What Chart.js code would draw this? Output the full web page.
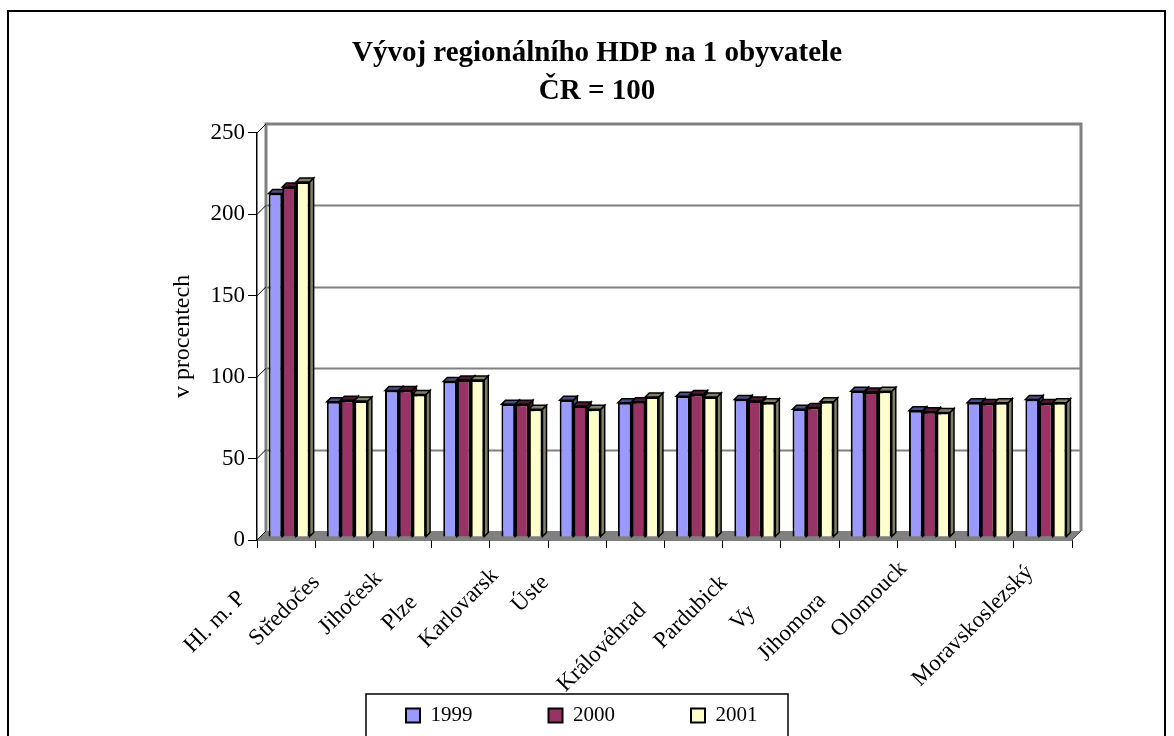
<!DOCTYPE html>
<html>
<head>
<meta charset="utf-8">
<script src="https://cdn.jsdelivr.net/npm/chart.js@4.4.1/dist/chart.umd.min.js"></script>
<style>
  html, body { margin: 0; padding: 0; background: #ffffff; }
  canvas { display: block; }
</style>
</head>
<body>
<canvas id="chart" width="1174" height="736"></canvas>
<script>
// ---------- DATA ----------
const categories = ["Hl. m. Praha", "Středočeský", "Jihočeský", "Plzeňský", "Karlovarský", "Ústecký", "Liberecký",
  "Královéhradecký", "Pardubický", "Vysočina", "Jihomoravský", "Olomoucký", "Zlínský", "Moravskoslezský"];
// labels as they are visible (clipped) in the reference picture
const tickLabels = ["Hl. m. P", "Středočes", "Jihočesk", "Plze", "Karlovarsk", "Úste", "",
  "Královéhrad", "Pardubick", "Vy", "Jihomora", "Olomouck", "", "Moravskoslezský"];
const seriesNames = ["1999", "2000", "2001"];
const values1999 = [211, 83, 90, 95.5, 81.5, 84, 82.5, 86.5, 84.5, 78.5, 89.5, 77.5, 82.5, 84.5];
const values2000 = [215, 84, 90, 96.5, 81.5, 80.5, 83, 87.5, 83.5, 79.5, 89, 77, 82, 82];
const values2001 = [218, 83.5, 87.5, 96.5, 78.5, 78.5, 86, 86, 82.5, 83, 89.5, 76.5, 82.5, 82.5];
const yTicks = [0, 50, 100, 150, 200, 250];
const titleLines = ["Vývoj regionálního HDP na 1 obyvatele", "ČR = 100"];
const yTitle = "v procentech";

// ---------- STYLE ----------
const SERIF = '"Liberation Serif", "Times New Roman", serif';
const frontColors = ["#9999FF", "#993366", "#FFFFCC"];
const faceColors = ["#4D4D80", "#4D1A33", "#808066"];
const WALL_DEPTH = 9;          // depth of the 3D box (px)
const BAR_SHIFT = 3;           // bars stand slightly behind the front plane
const BAR_DEPTH = 4;           // depth of each bar
// label anchor (right end of rotated text) relative to category centre / axis line
const labelPlace = [[-44, 55], [-28, 39], [-24, 35], [-47, 59], [-24, 32], [-32, 39], [0, 0],
  [-51, 67], [-28, 39], [-58, 69], [-46, 57], [-23, 25], [0, 0], [-13, 29]];

const box3d = {
  id: 'box3d',
  beforeDraw(chart) {
    const ctx = chart.ctx;
    ctx.save();
    ctx.fillStyle = '#ffffff';
    ctx.fillRect(0, 0, chart.width, chart.height);
    ctx.restore();
  },
  beforeDatasetsDraw(chart) {
    const { ctx, chartArea: ca, scales: { y } } = chart;
    const D = WALL_DEPTH;
    ctx.save();
    // floor
    ctx.fillStyle = '#808080';
    ctx.beginPath();
    ctx.moveTo(ca.left, ca.bottom);
    ctx.lineTo(ca.left + D, ca.bottom - D);
    ctx.lineTo(ca.right + D, ca.bottom - D);
    ctx.lineTo(ca.right, ca.bottom);
    ctx.closePath();
    ctx.fill();
    ctx.strokeStyle = '#555555';
    ctx.lineWidth = 1;
    ctx.beginPath();
    ctx.moveTo(ca.right, ca.bottom);
    ctx.lineTo(ca.right + D, ca.bottom - D);
    ctx.stroke();
    // back-wall gridlines
    ctx.strokeStyle = '#808080';
    ctx.lineWidth = 2;
    yTicks.forEach(v => {
      if (v === 0 || v === yTicks[yTicks.length - 1]) return;
      const py = Math.round(y.getPixelForValue(v) - D) + 0.5;
      ctx.beginPath();
      ctx.moveTo(ca.left + D, py);
      ctx.lineTo(ca.right + D, py);
      ctx.stroke();
    });
    // wall edges
    ctx.lineWidth = 3;
    ctx.beginPath();
    ctx.moveTo(ca.left + D, ca.bottom - D);
    ctx.lineTo(ca.left + D, ca.top - D);
    ctx.lineTo(ca.right + D, ca.top - D);
    ctx.lineTo(ca.right + D, ca.bottom - D);
    ctx.stroke();
    // left wall slashes
    ctx.strokeStyle = '#000000';
    ctx.lineWidth = 1;
    yTicks.forEach(v => {
      const py = y.getPixelForValue(v);
      ctx.beginPath();
      ctx.moveTo(ca.left, py);
      ctx.lineTo(ca.left + D, py - D);
      ctx.stroke();
    });
    // bar top and side faces (drawn behind the front faces)
    ctx.translate(BAR_SHIFT, -BAR_SHIFT);
    const B = BAR_DEPTH;
    chart.data.datasets.forEach((ds, di) => {
      const meta = chart.getDatasetMeta(di);
      meta.data.forEach(el => {
        const p = el.getProps(['x', 'y', 'base', 'width'], true);
        const l = p.x - p.width / 2, r = p.x + p.width / 2, t = p.y, b = p.base;
        ctx.fillStyle = faceColors[di];
        ctx.strokeStyle = '#000000';
        ctx.lineWidth = 1.5;
        ctx.beginPath();
        ctx.moveTo(r, t); ctx.lineTo(r + B, t - B); ctx.lineTo(r + B, b - B); ctx.lineTo(r, b);
        ctx.closePath(); ctx.fill(); ctx.stroke();
        ctx.beginPath();
        ctx.moveTo(l, t); ctx.lineTo(l + B, t - B); ctx.lineTo(r + B, t - B); ctx.lineTo(r, t);
        ctx.closePath(); ctx.fill(); ctx.stroke();
      });
    });
    ctx.restore();
    ctx.save();
    ctx.translate(BAR_SHIFT, -BAR_SHIFT);
  },
  afterDatasetsDraw(chart) {
    chart.ctx.restore();
  },
  afterLayout(chart) {
    // place the legend row like the reference
    chart.legend.left = 330;
    chart.legend.right = 1174;
  },
  afterDraw(chart) {
    const { ctx, chartArea: ca, scales: { x } } = chart;
    ctx.save();
    // category labels, rotated 45°
    ctx.fillStyle = '#000000';
    ctx.font = '23px ' + SERIF;
    ctx.textAlign = 'right';
    ctx.textBaseline = 'middle';
    tickLabels.forEach((lab, i) => {
      if (!lab) return;
      const cx = x.getPixelForValue(i);
      ctx.save();
      ctx.translate(cx + labelPlace[i][0], ca.bottom + labelPlace[i][1]);
      ctx.rotate(-Math.PI / 4);
      ctx.fillText(lab, 0, 0);
      ctx.restore();
    });
    // legend frame
    ctx.strokeStyle = '#000000';
    ctx.lineWidth = 1.5;
    ctx.strokeRect(366, 694, 422, 60);
    // outer chart frame
    ctx.lineWidth = 2;
    ctx.strokeRect(8, 11, 1157, 740);
    ctx.restore();
  }
};

const ctx = document.getElementById('chart').getContext('2d');
new Chart(ctx, {
  type: 'bar',
  data: {
    labels: categories,
    datasets: [
      { label: seriesNames[0], data: values1999, backgroundColor: frontColors[0], borderColor: '#000000', borderWidth: 2 },
      { label: seriesNames[1], data: values2000, backgroundColor: frontColors[1], borderColor: '#000000', borderWidth: 2 },
      { label: seriesNames[2], data: values2001, backgroundColor: frontColors[2], borderColor: '#000000', borderWidth: 2 }
    ]
  },
  options: {
    responsive: false,
    animation: false,
    events: [],
    datasets: { bar: { categoryPercentage: 0.705, barPercentage: 1.0 } },
    layout: { padding: { left: 122, right: 102, top: 0, bottom: 0 } },
    plugins: {
      title: {
        display: true,
        text: titleLines,
        color: '#000000',
        font: { family: SERIF, size: 29, weight: 'bold', lineHeight: 1.31 },
        padding: { top: 35, bottom: 22 }
      },
      legend: {
        position: 'bottom',
        align: 'start',
        labels: {
          boxWidth: 14, boxHeight: 14, padding: 76, color: '#000000',
          font: { family: SERIF, size: 21 }
        }
      },
      tooltip: { enabled: false }
    },
    scales: {
      x: {
        grid: { display: true, drawOnChartArea: false, drawTicks: true, tickLength: 8, color: '#000000', offset: true },
        border: { display: true, color: '#000000', width: 1.5 },
        ticks: { display: false },
        afterFit(s) { s.height = 89; }
      },
      y: {
        min: 0, max: 250,
        afterBuildTicks(s) { s.ticks = yTicks.map(v => ({ value: v })); },
        grid: { display: true, drawOnChartArea: false, drawTicks: true, tickLength: 9, color: '#000000' },
        border: { display: true, color: '#000000', width: 1.5 },
        ticks: { color: '#000000', padding: 3, font: { family: SERIF, size: 23 } },
        title: { display: true, text: yTitle, color: '#000000', font: { family: SERIF, size: 24 }, padding: { top: 46, bottom: 0 } },
        afterFit(s) { s.width = 135; }
      }
    }
  },
  plugins: [box3d]
});
</script>
</body>
</html>
